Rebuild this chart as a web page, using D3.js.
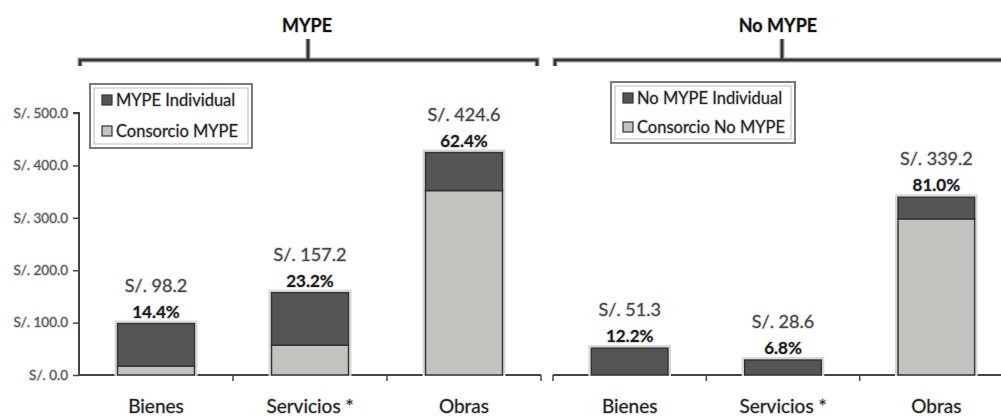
<!DOCTYPE html>
<html><head><meta charset="utf-8">
<script src="https://cdn.jsdelivr.net/npm/d3@7"></script>
<style>
body{margin:0;background:#fff;}
svg{display:block;}
text{font-family:Lato,"Open Sans",sans-serif;}
.halo{paint-order:stroke;stroke:#d6d6d6;stroke-width:1.6px;stroke-linejoin:round;}
</style></head>
<body>
<svg id="chart" width="1001" height="416"></svg>
<script>
const categories = ["Bienes", "Servicios *", "Obras"];
const mypeIndividual = [81.2, 100.2, 72.6];
const consorcioMype = [17.0, 57.0, 352.0];
const mypeTotals = [98.2, 157.2, 424.6];
const mypeShares = [14.4, 23.2, 62.4];
const noMypeIndividual = [51.3, 28.6, 41.2];
const consorcioNoMype = [0.0, 0.0, 298.0];
const noMypeTotals = [51.3, 28.6, 339.2];
const noMypeShares = [12.2, 6.8, 81.0];
const yTicks = [0, 100, 200, 300, 400, 500];
const groupTitles = ["MYPE", "No MYPE"];
const legendMype = ["MYPE Individual", "Consorcio MYPE"];
const legendNoMype = ["No MYPE Individual", "Consorcio No MYPE"];

const DARK = "#555555", LIGHT = "#c2c2be", EDGE = "#333333";
const svg = d3.select("#chart");
const y = d3.scaleLinear().domain([0, 500]).range([375, 113]);

// y axis
const yAxis = svg.append("g").attr("transform", "translate(79,0)")
  .call(d3.axisLeft(y).tickValues(yTicks).tickSize(6).tickPadding(5)
    .tickFormat(d => "S/. " + d.toFixed(1)));
yAxis.select(".domain").attr("stroke", "#444").attr("stroke-width", 2).attr("d", "M-6," + y(500) + "H0V" + y(0));
yAxis.selectAll(".tick line").attr("stroke", "#444").attr("stroke-width", 1.5);
yAxis.selectAll(".tick text").attr("class", "halo").attr("fill", "#555")
  .style("font-size", "13.5px").style("font-family", "Lato");

function panel(range, ind, cons, totals, shares, showFirstTick) {
  const x = d3.scaleBand().domain(categories).range(range).paddingInner(0.5).paddingOuter(0.25);
  const step = x.step();
  const g = svg.append("g");
  const x0 = range[0], x1 = Math.min(range[1], 1001);
  g.append("line").attr("x1", x0).attr("x2", x1).attr("y1", y(0)).attr("y2", y(0))
    .attr("stroke", "#444").attr("stroke-width", 2);
  const bounds = categories.map(c => x(c) + x.bandwidth() / 2 - step / 2);
  bounds.push(x(categories[2]) + x.bandwidth() / 2 + step / 2);
  g.selectAll(".bt").data(bounds.filter((b, i) => (i > 0 || showFirstTick) && b <= 1001)).join("line")
    .attr("x1", d => d).attr("x2", d => d).attr("y1", y(0)).attr("y2", y(0) + 6)
    .attr("stroke", "#444").attr("stroke-width", 1.5);
  categories.forEach((c, i) => {
    const bx = x(c), bw = x.bandwidth();
    g.append("rect").attr("x", bx - 2).attr("y", y(totals[i]) - 2).attr("width", bw + 4)
      .attr("height", y(0) - y(totals[i]) + 2).attr("fill", "none").attr("stroke", "#d8d8d8").attr("stroke-width", 2);
    if (cons[i] > 0) {
      g.append("rect").attr("x", bx).attr("y", y(cons[i])).attr("width", bw)
        .attr("height", y(0) - y(cons[i])).attr("fill", LIGHT).attr("stroke", EDGE).attr("stroke-width", 1.5);
    }
    g.append("rect").attr("x", bx).attr("y", y(cons[i] + ind[i])).attr("width", bw)
      .attr("height", y(cons[i]) - y(cons[i] + ind[i])).attr("fill", DARK).attr("stroke", EDGE).attr("stroke-width", 1.5);
    const top = y(totals[i]);
    g.append("text").attr("class", "halo").attr("x", bx + bw / 2).attr("y", top - 32)
      .attr("text-anchor", "middle").attr("fill", "#444").style("font-size", "18px")
      .text("S/. " + totals[i].toFixed(1));
    g.append("text").attr("class", "halo").attr("x", bx + bw / 2).attr("y", top - 6)
      .attr("text-anchor", "middle").attr("fill", "#1a1a1a").style("font-size", "17px").style("font-weight", "bold")
      .text(shares[i].toFixed(1) + "%");
    g.append("text").attr("class", "halo").attr("x", bx + bw / 2).attr("y", 413)
      .attr("text-anchor", "middle").attr("fill", "#222").style("font-size", "19px")
      .text(c);
  });
}
panel([79, 541], mypeIndividual, consorcioMype, mypeTotals, mypeShares, false);
panel([553, 1013], noMypeIndividual, consorcioNoMype, noMypeTotals, noMypeShares, true);

function bracket(xa, xb, xs, title, tx) {
  const g = svg.append("g");
  const d = "M" + xa + ",66V60H" + xb + (xb < 1001 ? "V66" : "");
  g.append("path").attr("d", d).attr("fill", "none").attr("stroke", "#d0d0d0").attr("stroke-width", 6);
  g.append("path").attr("d", "M" + xs + ",39V60").attr("stroke", "#d0d0d0").attr("stroke-width", 6);
  g.append("path").attr("d", d).attr("fill", "none").attr("stroke", "#333").attr("stroke-width", 3);
  g.append("path").attr("d", "M" + xs + ",39V60").attr("stroke", "#333").attr("stroke-width", 3);
  g.append("text").attr("class", "halo").attr("x", tx).attr("y", 32).attr("text-anchor", "middle")
    .attr("fill", "#111").style("font-size", "18px").style("font-weight", "bold").text(title);
}
bracket(80, 537, 308, groupTitles[0], 307);
bracket(555, 1005, 782, groupTitles[1], 778);

function legend(x0, y0, w, h, labels, rowY) {
  const g = svg.append("g");
  g.append("rect").attr("x", x0).attr("y", y0).attr("width", w).attr("height", h)
    .attr("fill", "#fff").attr("stroke", "#7a7a7a").attr("stroke-width", 2);
  g.append("rect").attr("x", x0 + 4).attr("y", y0 + 4).attr("width", w - 8).attr("height", h - 8)
    .attr("fill", "none").attr("stroke", "#bbb").attr("stroke-width", 1);
  labels.forEach((l, i) => {
    g.append("rect").attr("x", x0 + 12).attr("y", rowY[i] - 5).attr("width", 10).attr("height", 10)
      .attr("fill", i === 0 ? DARK : LIGHT).attr("stroke", "#333").attr("stroke-width", 1.2);
    g.append("text").attr("class", "halo").attr("x", x0 + 26).attr("y", rowY[i] + 6)
      .attr("fill", "#222").style("font-size", "16.5px").text(l);
  });
}
legend(90, 84, 162, 64, legendMype, [100, 131]);
legend(611, 82, 184, 61, legendNoMype, [98, 127]);
</script>
</body></html>
